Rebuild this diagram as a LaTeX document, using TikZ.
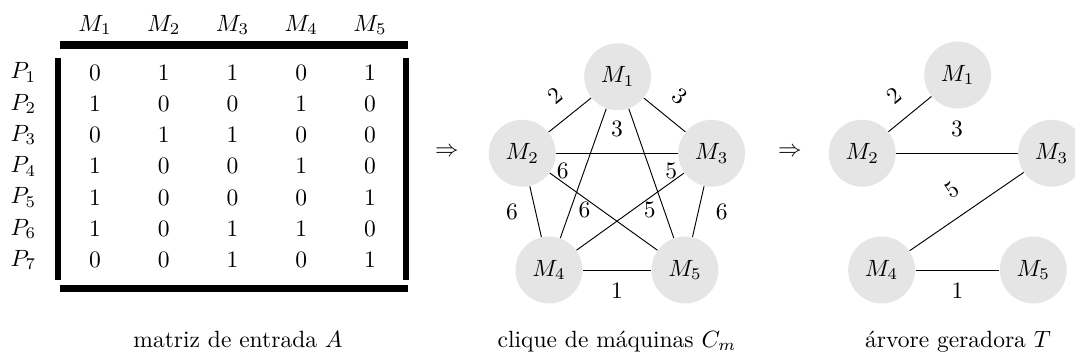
\documentclass[tikz,border=0pt]{standalone}
\usepackage{amsmath}
\usepackage{amssymb}

\tikzset{
  mnode/.style={circle, fill=gray!20, minimum size=1cm, inner sep=0pt},
  legenda/.style={anchor=base}
}

\begin{document}
\begin{tikzpicture}
            \useasboundingbox (0,0) rectangle (16.07,-5.38);
            % matriz de entrada
            \foreach \j in {1,...,5}
                \node (m\j) at ({0.392+1.028*\j},-0.374) {$M_\j$};
            \foreach \i in {1,...,7}
                \node (p\i) at (0.349,{-0.62-0.467*\i}) {$P_\i$};
            \foreach \row [count=\i] in {{0,1,1,0,1},{1,0,0,1,0},{0,1,1,0,0},{1,0,0,1,0},{1,0,0,0,1},{1,0,1,1,0},{0,0,1,0,1}}
                \foreach \v [count=\j] in \row
                    \node (a\i\j) at ({0.392+1.028*\j},{-0.62-0.467*\i}) {$\v$};
            \draw[line width=3pt] (0.897,-0.673) -- (6.104,-0.673);
            \draw[line width=3pt] (0.897,-4.310) -- (6.104,-4.310);
            \draw[line width=2.5pt] (0.862,-0.872) -- (0.862,-4.185);
            \draw[line width=2.5pt] (6.069,-0.872) -- (6.069,-4.185);
            \node (arr1) at (6.682,-2.272) {$\Rightarrow$};
            \node (arr2) at (11.809,-2.272) {$\Rightarrow$};
            % clique
            \node[mnode] (c1) at (9.233,-1.147) {$M_1$};
            \node[mnode] (c2) at (7.807,-2.291) {$M_2$};
            \node[mnode] (c3) at (10.638,-2.291) {$M_3$};
            \node[mnode] (c4) at (8.206,-4.036) {$M_4$};
            \node[mnode] (c5) at (10.239,-4.036) {$M_5$};
            \draw (c2) -- node[sloped, above=3.5pt] (w12) {2} (c1);
            \draw (c1) -- node[sloped, above=3pt] (w13) {3} (c3);
            \draw (c2) -- node[above=3.5pt] (w23) {3} (c3);
            \draw (c4) -- node[below=2pt] (w45) {1} (c5);
            \draw (c2) -- node[left=4pt] (w24) {6} (c4);
            \draw (c3) -- node[right=4pt] (w35) {6} (c5);
            \draw (c1) -- node[pos=0.78, right] (w14) {6} (c4);
            \draw (c1) -- node[pos=0.78, left] (w15) {5} (c5);
            \draw (c2) -- node[pos=0.12, above, inner sep=1pt] (w25) {6} (c5);
            \draw (c3) -- node[pos=0.12, above, inner sep=1pt] (w34) {5} (c4);
            % arvore geradora
            \node[mnode] (t1) at (14.316,-1.121) {$M_1$};
            \node[mnode] (t2) at (12.889,-2.291) {$M_2$};
            \node[mnode] (t3) at (15.720,-2.291) {$M_3$};
            \node[mnode] (t4) at (13.179,-4.036) {$M_4$};
            \node[mnode] (t5) at (15.446,-4.036) {$M_5$};
            \draw (t2) -- node[sloped, above=3.5pt] (v12) {2} (t1);
            \draw (t2) -- node[above=3.5pt] (v23) {3} (t3);
            \draw (t4) -- node[sloped, above=4pt] (v34) {5} (t3);
            \draw (t4) -- node[below=2pt] (v45) {1} (t5);
            % legendas
            \node[legenda] (capA) at (3.558,-5.19) {matriz de entrada $A$};
            \node[legenda] (capC) at (9.223,-5.19) {clique de máquinas $C_m$};
            \node[legenda] (capT) at (14.32,-5.19) {árvore geradora $T$};
        \end{tikzpicture}
\end{document}
